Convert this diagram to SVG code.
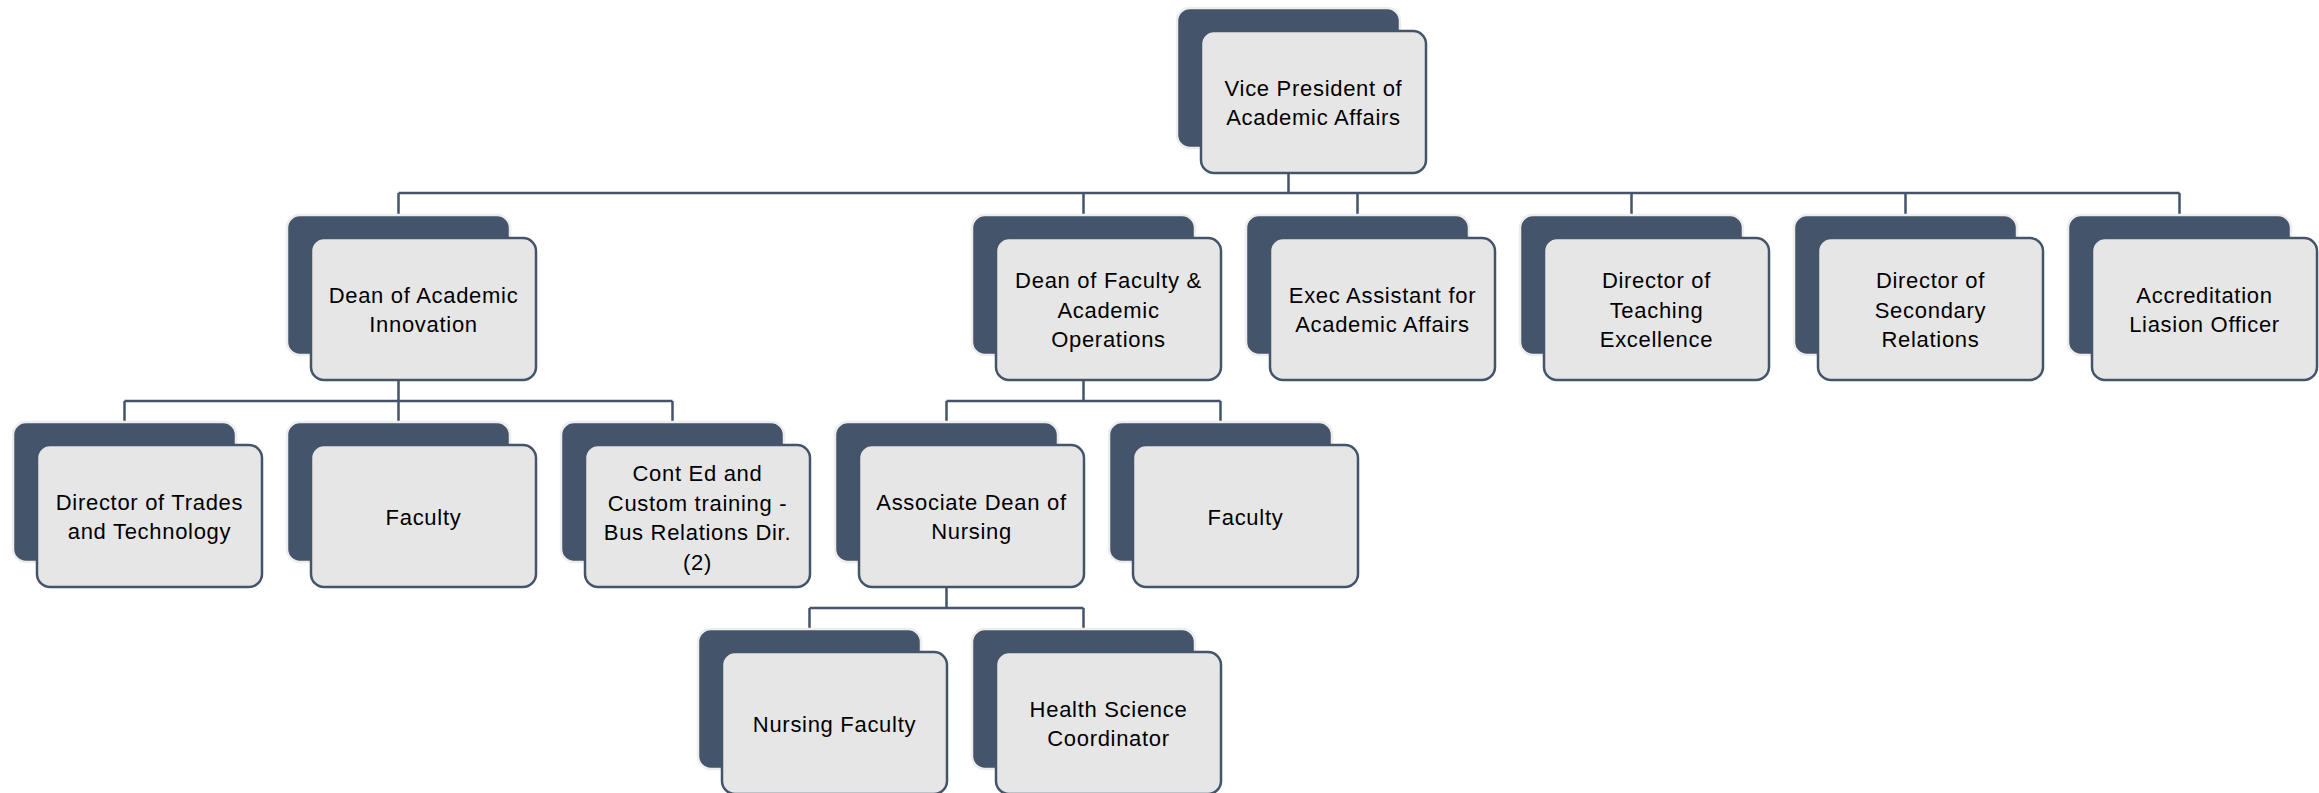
<svg xmlns="http://www.w3.org/2000/svg" width="2319" height="793" viewBox="0 0 2319 793">
<style>
.back{fill:#44546A;stroke:#EDEDED;stroke-width:2.5}
.front{fill:#E7E6E6;stroke:#44546A;stroke-width:2.5}
.lbl{font-family:"Liberation Sans",Arial,sans-serif;font-size:22px;letter-spacing:0.7px;fill:#000;text-anchor:middle}
.conn{fill:none;stroke:#44546A;stroke-width:2.5}
</style>
<rect width="2319" height="793" fill="#FFFFFF"/>
<g id="connectors" class="conn">
<path d="M1288.5,173 V193 M398.5,193 H2179.5 M398.5,193 V215 M1083.5,193 V215 M1357.5,193 V215 M1631.5,193 V215 M1905.5,193 V215 M2179.5,193 V215"/>
<path d="M398.5,380 V401 M124.5,401 H672.5 M124.5,401 V422 M398.5,401 V422 M672.5,401 V422"/>
<path d="M1083.5,380 V401 M946.5,401 H1220.5 M946.5,401 V422 M1220.5,401 V422"/>
<path d="M946.5,587 V608 M809.5,608 H1083.5 M809.5,608 V629 M1083.5,608 V629"/>
</g>
<g id="vp" transform="translate(1177,8)"><rect class="back" width="223" height="140" rx="13"/><rect class="front" x="24" y="23" width="225" height="142" rx="13"/><text class="lbl" x="136.5"><tspan x="136.5" y="87.75">Vice President of</tspan><tspan x="136.5" y="117.25">Academic Affairs</tspan></text></g>
<g id="dean-ai" transform="translate(287,215)"><rect class="back" width="223" height="140" rx="13"/><rect class="front" x="24" y="23" width="225" height="142" rx="13"/><text class="lbl"><tspan x="136.5" y="87.75">Dean of Academic</tspan><tspan x="136.5" y="117.25">Innovation</tspan></text></g>
<g id="dean-fac" transform="translate(972,215)"><rect class="back" width="223" height="140" rx="13"/><rect class="front" x="24" y="23" width="225" height="142" rx="13"/><text class="lbl"><tspan x="136.5" y="73">Dean of Faculty &amp;</tspan><tspan x="136.5" y="102.5">Academic</tspan><tspan x="136.5" y="132">Operations</tspan></text></g>
<g id="exec" transform="translate(1246,215)"><rect class="back" width="223" height="140" rx="13"/><rect class="front" x="24" y="23" width="225" height="142" rx="13"/><text class="lbl"><tspan x="136.5" y="87.75">Exec Assistant for</tspan><tspan x="136.5" y="117.25">Academic Affairs</tspan></text></g>
<g id="dir-teaching" transform="translate(1520,215)"><rect class="back" width="223" height="140" rx="13"/><rect class="front" x="24" y="23" width="225" height="142" rx="13"/><text class="lbl"><tspan x="136.5" y="73">Director of</tspan><tspan x="136.5" y="102.5">Teaching</tspan><tspan x="136.5" y="132">Excellence</tspan></text></g>
<g id="dir-secondary" transform="translate(1794,215)"><rect class="back" width="223" height="140" rx="13"/><rect class="front" x="24" y="23" width="225" height="142" rx="13"/><text class="lbl"><tspan x="136.5" y="73">Director of</tspan><tspan x="136.5" y="102.5">Secondary</tspan><tspan x="136.5" y="132">Relations</tspan></text></g>
<g id="accreditation" transform="translate(2068,215)"><rect class="back" width="223" height="140" rx="13"/><rect class="front" x="24" y="23" width="225" height="142" rx="13"/><text class="lbl"><tspan x="136.5" y="87.75">Accreditation</tspan><tspan x="136.5" y="117.25">Liasion Officer</tspan></text></g>
<g id="dir-trades" transform="translate(13,422)"><rect class="back" width="223" height="140" rx="13"/><rect class="front" x="24" y="23" width="225" height="142" rx="13"/><text class="lbl"><tspan x="136.5" y="87.75">Director of Trades</tspan><tspan x="136.5" y="117.25">and Technology</tspan></text></g>
<g id="faculty-ai" transform="translate(287,422)"><rect class="back" width="223" height="140" rx="13"/><rect class="front" x="24" y="23" width="225" height="142" rx="13"/><text class="lbl"><tspan x="136.5" y="102.5">Faculty</tspan></text></g>
<g id="cont-ed" transform="translate(561,422)"><rect class="back" width="223" height="140" rx="13"/><rect class="front" x="24" y="23" width="225" height="142" rx="13"/><text class="lbl"><tspan x="136.5" y="59">Cont Ed and</tspan><tspan x="136.5" y="88.5">Custom training -</tspan><tspan x="136.5" y="118">Bus Relations Dir.</tspan><tspan x="136.5" y="147.5">(2)</tspan></text></g>
<g id="assoc-dean" transform="translate(835,422)"><rect class="back" width="223" height="140" rx="13"/><rect class="front" x="24" y="23" width="225" height="142" rx="13"/><text class="lbl"><tspan x="136.5" y="87.75">Associate Dean of</tspan><tspan x="136.5" y="117.25">Nursing</tspan></text></g>
<g id="faculty-fac" transform="translate(1109,422)"><rect class="back" width="223" height="140" rx="13"/><rect class="front" x="24" y="23" width="225" height="142" rx="13"/><text class="lbl"><tspan x="136.5" y="102.5">Faculty</tspan></text></g>
<g id="nursing-faculty" transform="translate(698,629)"><rect class="back" width="223" height="140" rx="13"/><rect class="front" x="24" y="23" width="225" height="142" rx="13"/><text class="lbl"><tspan x="136.5" y="102.5">Nursing Faculty</tspan></text></g>
<g id="health-science" transform="translate(972,629)"><rect class="back" width="223" height="140" rx="13"/><rect class="front" x="24" y="23" width="225" height="142" rx="13"/><text class="lbl"><tspan x="136.5" y="87.75">Health Science</tspan><tspan x="136.5" y="117.25">Coordinator</tspan></text></g>
</svg>
